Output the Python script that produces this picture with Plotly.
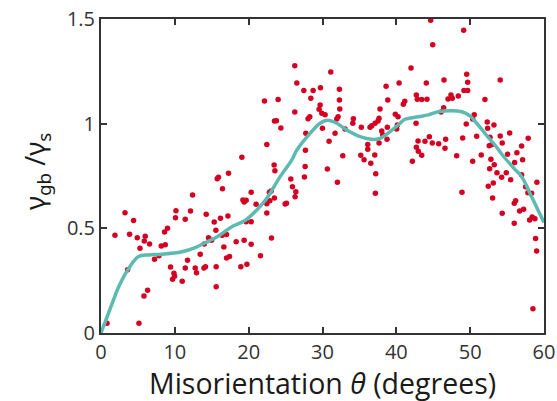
import plotly.graph_objects as go

# scatter data: misorientation (deg), gamma_gb / gamma_s
pts_x = [19.08,17.27,15.91,15.74,16.45,12.40,19.22,19.39,3.25,4.41,10.15,10.09,12.12,11.41,14.25,15.33,16.18,17.19,
         9.01,8.61,15.56,1.89,3.87,4.91,5.99,5.86,6.58,5.28,8.70,8.16,14.56,14.97,13.98,16.41,17.0,16.64,18.31,19.39,
         13.44,7.25,7.85,11.72,17.40,17.0,9.42,11.41,12.76,12.94,13.94,14.15,15.60,18.94,9.88,9.96,9.69,11.0,3.60,
         15.60,6.31,5.82,0.81,5.14,
         26.25,31.12,26.52,27.47,28.73,29.72,32.29,40.37,38.61,22.14,23.99,28.42,32.29,38.84,29.68,29.54,29.91,30.35,
         32.34,26.25,37.79,28.28,28.05,32.11,31.93,34.18,34.10,23.49,23.76,24.36,37.66,37.52,37.12,36.67,36.44,35.26,
         39.86,40.23,40.14,40.05,38.78,38.02,38.16,38.74,33.06,31.70,29.99,27.74,30.89,37.66,36.13,36.13,22.46,27.69,
         32.75,35.18,35.63,37.08,36.54,23.45,27.65,30.66,
         23.55,37.21,37.16,32.02,25.71,25.93,26.39,26.29,27.55,25.12,24.94,20.34,23.04,22.81,23.49,22.87,22.46,21.01,
         19.66,22.46,19.66,20.34,23.09,20.34,21.60,19.76,
         44.65,49.12,44.93,41.99,44.06,46.46,49.53,49.66,54.07,49.16,49.66,42.71,42.84,43.44,44.15,41.14,40.95,47.40,
         47.0,47.58,48.39,52.0,46.41,46.05,50.55,50.34,42.67,49.47,52.31,53.22,52.37,48.99,50.88,54.07,55.35,57.86,
         44.47,42.94,43.88,44.87,45.74,46.68,46.59,42.71,42.98,43.44,52.68,52.58,52.95,54.34,56.97,56.33,55.07,51.50,
         48.17,52.81,50.34,42.17,57.10,56.02,53.26,52.64,
         53.63,54.26,54.89,55.48,56.97,53.13,52.45,53.04,48.89,57.51,57.82,58.32,59.04,56.16,55.97,57.24,56.70,54.34,
         55.97,58.05,58.40,58.77,58.86,59.0,58.5]
pts_y = [0.839,0.763,0.744,0.737,0.689,0.659,0.635,0.626,0.575,0.538,0.584,0.551,0.583,0.543,0.567,0.530,0.548,0.559,
         0.500,0.483,0.491,0.467,0.472,0.455,0.462,0.440,0.425,0.405,0.422,0.416,0.455,0.443,0.425,0.467,0.470,0.411,
         0.436,0.443,0.376,0.352,0.369,0.347,0.366,0.358,0.315,0.311,0.311,0.288,0.311,0.317,0.317,0.317,0.285,0.271,
         0.257,0.247,0.302,0.221,0.204,0.177,0.046,0.046,
         1.277,1.247,1.194,1.158,1.158,1.171,1.164,1.194,1.179,1.108,1.115,1.121,1.113,1.113,1.089,1.069,1.050,1.042,
         1.070,1.056,1.070,1.033,1.024,1.033,1.022,1.024,1.002,1.013,1.014,0.979,1.026,1.013,1.002,0.990,0.983,0.983,
         1.045,1.033,0.994,0.975,0.983,0.965,0.947,0.925,0.975,0.954,0.978,0.954,0.916,0.908,0.900,0.878,0.900,0.873,
         0.847,0.849,0.828,0.850,0.811,0.803,0.795,0.784,
         0.775,0.761,0.667,0.720,0.736,0.699,0.675,0.651,0.745,0.620,0.616,0.672,0.678,0.672,0.645,0.632,0.618,0.615,
         0.634,0.573,0.532,0.532,0.454,0.424,0.369,0.328,
         1.494,1.446,1.377,1.266,1.194,1.209,1.236,1.198,1.209,1.158,1.158,1.137,1.117,1.115,1.117,1.107,1.093,1.137,
         1.118,1.121,1.132,1.115,1.076,1.056,1.042,1.022,1.002,0.999,1.008,0.994,0.978,0.932,0.940,0.941,0.956,0.930,
         0.938,0.917,0.916,0.908,0.904,0.925,0.882,0.887,0.868,0.849,0.935,0.895,0.900,0.908,0.893,0.861,0.854,0.850,
         0.847,0.830,0.820,0.820,0.828,0.814,0.804,0.785,
         0.766,0.744,0.766,0.732,0.756,0.717,0.701,0.645,0.672,0.699,0.670,0.667,0.720,0.632,0.620,0.591,0.583,0.572,
         0.524,0.540,0.554,0.546,0.452,0.392,0.116]

# fitted curve
curve_x = [0, 1.5, 2.4, 3.6, 5.09, 6.44, 8.25, 10.96, 12.76, 14.11, 15.91, 17.72, 19.39, 21.1, 22.46, 24.26, 25.85,
           26.52, 28.32, 29.67, 30.66, 31.93, 33.29, 35.09, 36.67, 37.79, 39.15, 40.5, 41.18, 42.98, 44.33, 45.68,
           47.5, 48.85, 49.97, 50.88, 52.0, 53.35, 54.7, 56.06, 56.97, 58.32, 60.0]
curve_y = [0, 0.14, 0.221, 0.30, 0.365, 0.373, 0.376, 0.388, 0.408, 0.431, 0.463, 0.508, 0.535, 0.588, 0.644, 0.747,
           0.827, 0.874, 0.954, 1.002, 1.016, 1.002, 0.97, 0.938, 0.925, 0.93, 0.962, 1.002, 1.021, 1.033, 1.042,
           1.057, 1.062, 1.057, 1.037, 1.002, 0.954, 0.898, 0.836, 0.782, 0.747, 0.651, 0.528]

x_ticks = [0, 10, 20, 30, 40, 50, 60]
y_ticks = [0, 0.5, 1, 1.5]
y_tick_text = ["0", "0.5", "1", "1.5"]

FONT = "Open Sans"
AX = "#333333"

fig = go.Figure()
fig.add_trace(go.Scatter(x=pts_x, y=pts_y, mode="markers",
                         marker=dict(color="#d40022", size=5.5, line=dict(width=0)),
                         showlegend=False, hoverinfo="skip"))
fig.add_trace(go.Scatter(x=curve_x, y=curve_y, mode="lines",
                         line=dict(color="#5dbab0", width=3.5, shape="spline", smoothing=1.0),
                         showlegend=False, hoverinfo="skip"))

fig.update_layout(
    width=557, height=401,
    margin=dict(l=101, r=13, t=19, b=68, autoexpand=False),
    paper_bgcolor="white", plot_bgcolor="white",
    font=dict(family=FONT, color=AX, size=20),
    xaxis=dict(range=[0, 60], tickvals=x_ticks, ticks="inside", ticklen=6, tickwidth=1.5,
               tickcolor=AX, showline=True, linecolor=AX, linewidth=2, mirror="ticks",
               showgrid=False, zeroline=False, automargin=False,
               tickfont=dict(size=20, color="#333333", family=FONT)),
    yaxis=dict(range=[0, 1.5], tickvals=y_ticks, ticktext=y_tick_text, ticks="inside", ticklen=6,
               tickwidth=1.5, tickcolor=AX, showline=True, linecolor=AX, linewidth=2, mirror="ticks",
               showgrid=False, zeroline=False, automargin=False,
               tickfont=dict(size=20, color="#333333", family=FONT)),
    annotations=[
        dict(text="Misorientation <i>θ</i> (degrees)", xref="paper", yref="paper", x=0.5, y=-0.16,
             xanchor="center", yanchor="middle", showarrow=False,
             font=dict(size=28.5, family=FONT, color="#1a1a1a")),
        dict(text="γ<sub>gb</sub> /γ<sub>s</sub>", xref="paper", yref="paper", x=-0.145, y=0.515,
             xanchor="center", yanchor="middle", showarrow=False, textangle=-90,
             font=dict(size=27, family="Noto Sans", color="#1a1a1a")),
    ],
)

fig.write_html("out.html", config={"displayModeBar": False},
               post_script="document.body.style.margin='0';document.body.style.overflow='hidden';")
